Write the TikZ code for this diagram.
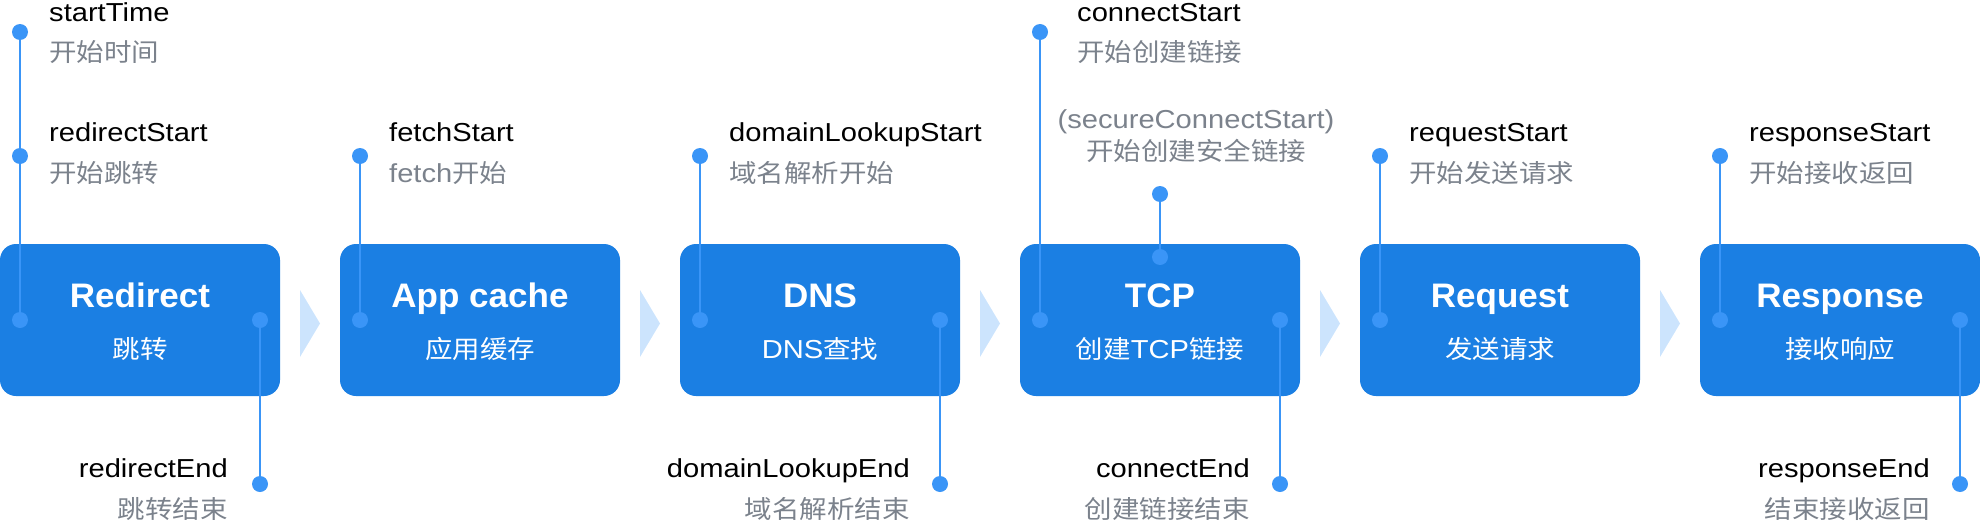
\documentclass[tikz,border=0pt]{standalone}
\usepackage{fontspec}
\setmainfont{Liberation Sans}
\newfontfamily\labfont[FakeStretch=1.12]{Liberation Sans}
\newfontfamily\cjkfont[FakeStretch=1.1]{Noto Sans CJK SC}
\newfontfamily\ttlfont[FakeStretch=1.03]{Liberation Sans}
\definecolor{boxblue}{HTML}{1B7FE3}
\definecolor{dotblue}{HTML}{3A95F7}
\definecolor{chevblue}{HTML}{CCE4FD}
\definecolor{graytxt}{HTML}{7B828C}
\newcommand\txen[1]{{\labfont\fontsize{26}{30}\selectfont #1}}
\newcommand\txzh[1]{{\cjkfont\fontsize{25}{30}\selectfont #1}}
\begin{document}
\begin{tikzpicture}[x=1pt,y=-1pt,
 box/.style={rectangle, rounded corners=16pt, fill=boxblue, minimum width=280pt, minimum height=152pt, inner sep=0pt},
 ttl/.style={text=white, font=\ttlfont\bfseries\fontsize{34}{40}\selectfont, inner sep=0pt, anchor=base},
 sub/.style={text=white, inner sep=0pt, anchor=base},
 blk/.style={text=black, inner sep=0pt},
 gry/.style={text=graytxt, inner sep=0pt},
 dot/.style={circle, fill=dotblue, minimum size=16pt, inner sep=0pt},
 wire/.style={draw=dotblue, line width=2.2pt},
 chevron/.style={fill=chevblue},
]
\useasboundingbox (0,0) rectangle (1980,522);

% boxes
\node[box] (b0) at (140,320) {};
\node[box] (b1) at (480,320) {};
\node[box] (b2) at (820,320) {};
\node[box] (b3) at (1160,320) {};
\node[box] (b4) at (1500,320) {};
\node[box] (b5) at (1840,320) {};

% chevrons
\foreach \i in {0,...,4} {
  \fill[chevron] ({300+340*\i},290) -- ({320+340*\i},323.5) -- ({300+340*\i},357) -- cycle;
}

% box texts
\node[ttl] (t0) at (140,307.5) {Redirect};
\node[ttl] (t1) at (480,307.5) {App cache};
\node[ttl] (t2) at (820,307.5) {DNS};
\node[ttl] (t3) at (1160,307.5) {TCP};
\node[ttl] (t4) at (1500,307.5) {Request};
\node[ttl] (t5) at (1840,307.5) {Response};
\node[sub] (s0) at (140,358) {\txzh{跳转}};
\node[sub] (s1) at (480,358) {\txzh{应用缓存}};
\node[sub] (s2) at (820,358) {\txen{DNS}\txzh{查找}};
\node[sub] (s3) at (1160,358) {\txzh{创建}\txen{TCP}\txzh{链接}};
\node[sub] (s4) at (1500,358) {\txzh{发送请求}};
\node[sub] (s5) at (1840,358) {\txzh{接收响应}};

% labels above
\node[blk, anchor=base west] (la1) at (49,21) {\txen{startTime}};
\node[gry, anchor=base west] (la1z) at (49,61) {\txzh{开始时间}};
\node[blk, anchor=base west] (la2) at (49,141) {\txen{redirectStart}};
\node[gry, anchor=base west] (la2z) at (49,182) {\txzh{开始跳转}};
\node[blk, anchor=base west] (la3) at (389,141) {\txen{fetchStart}};
\node[gry, anchor=base west] (la3z) at (389,182) {\txen{fetch}\txzh{开始}};
\node[blk, anchor=base west] (la4) at (729,141) {\txen{domainLookupStart}};
\node[gry, anchor=base west] (la4z) at (729,182) {\txzh{域名解析开始}};
\node[blk, anchor=base west] (la5) at (1077,21) {\txen{connectStart}};
\node[gry, anchor=base west] (la5z) at (1077,61) {\txzh{开始创建链接}};
\node[gry, anchor=base] (la6) at (1196,128) {\txen{(secureConnectStart)}};
\node[gry, anchor=base] (la6z) at (1196,160) {\txzh{开始创建安全链接}};
\node[blk, anchor=base west] (la7) at (1409,141) {\txen{requestStart}};
\node[gry, anchor=base west] (la7z) at (1409,182) {\txzh{开始发送请求}};
\node[blk, anchor=base west] (la8) at (1749,141) {\txen{responseStart}};
\node[gry, anchor=base west] (la8z) at (1749,182) {\txzh{开始接收返回}};

% labels below
\node[blk, anchor=base east] (lb1) at (228,477) {\txen{redirectEnd}};
\node[gry, anchor=base east] (lb1z) at (228,518) {\txzh{跳转结束}};
\node[blk, anchor=base east] (lb2) at (910,477) {\txen{domainLookupEnd}};
\node[gry, anchor=base east] (lb2z) at (910,518) {\txzh{域名解析结束}};
\node[blk, anchor=base east] (lb3) at (1250,477) {\txen{connectEnd}};
\node[gry, anchor=base east] (lb3z) at (1250,518) {\txzh{创建链接结束}};
\node[blk, anchor=base east] (lb4) at (1930,477) {\txen{responseEnd}};
\node[gry, anchor=base east] (lb4z) at (1930,518) {\txzh{结束接收返回}};

% dot positions
\coordinate (pStartTime) at (20,32);
\coordinate (pRedirStart) at (20,156);
\coordinate (pFetch) at (360,156);
\coordinate (pDomStart) at (700,156);
\coordinate (pConnStart) at (1040,32);
\coordinate (pSecure) at (1160,194);
\coordinate (pReqStart) at (1380,156);
\coordinate (pRespStart) at (1720,156);
\coordinate (pRedirEnd) at (260,484);
\coordinate (pDomEnd) at (940,484);
\coordinate (pConnEnd) at (1280,484);
\coordinate (pRespEnd) at (1960,484);
\coordinate (in0) at (20,320);
\coordinate (in1) at (360,320);
\coordinate (in2) at (700,320);
\coordinate (in3) at (1040,320);
\coordinate (in4) at (1380,320);
\coordinate (in5) at (1720,320);
\coordinate (out0) at (260,320);
\coordinate (out2) at (940,320);
\coordinate (out3) at (1280,320);
\coordinate (out5) at (1960,320);
\coordinate (top3) at (1160,257);

% wires
\draw[wire] (pStartTime) -- (in0);
\draw[wire] (pFetch) -- (in1);
\draw[wire] (pDomStart) -- (in2);
\draw[wire] (pConnStart) -- (in3);
\draw[wire] (pSecure) -- (top3);
\draw[wire] (pReqStart) -- (in4);
\draw[wire] (pRespStart) -- (in5);
\draw[wire] (out0) -- (pRedirEnd);
\draw[wire] (out2) -- (pDomEnd);
\draw[wire] (out3) -- (pConnEnd);
\draw[wire] (out5) -- (pRespEnd);

% dots
\foreach \p in {pStartTime,pRedirStart,pFetch,pDomStart,pConnStart,pSecure,pReqStart,pRespStart,pRedirEnd,pDomEnd,pConnEnd,pRespEnd,in0,in1,in2,in3,in4,in5,out0,out2,out3,out5,top3} {
  \node[dot] (d\p) at (\p) {};
}
\end{tikzpicture}
\end{document}
